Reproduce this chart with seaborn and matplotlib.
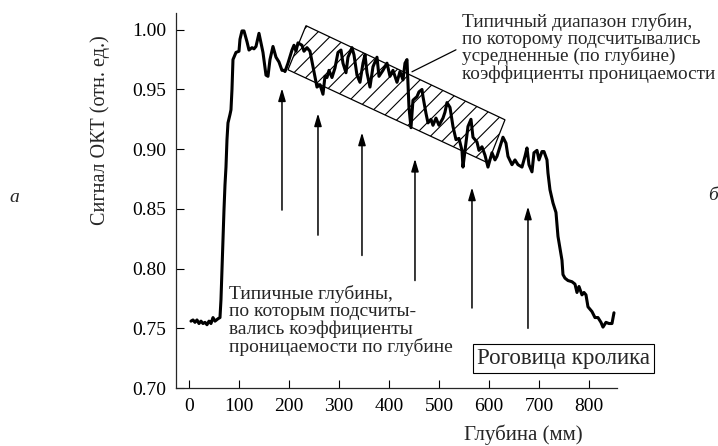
import matplotlib
matplotlib.use("Agg")
import matplotlib.pyplot as plt
import seaborn as sns
import pandas as pd
from matplotlib.patches import Polygon

# OCT signal vs depth
depth = [4, 8, 12, 16, 20, 24, 28, 32, 36, 40, 44, 48, 52, 58, 62, 64, 66, 68, 70, 72,
         74, 76, 78, 82, 84, 86, 88, 94, 100, 102, 106, 110, 116, 120, 126, 130, 134, 140,
         148, 154, 158, 162, 168, 174, 180, 186, 190, 192, 198, 206, 210, 214, 218, 226,
         230, 236, 242, 248, 256, 262, 268, 272, 276, 280, 286, 292, 298, 304, 308, 314,
         318, 326, 330, 336, 342, 348, 352, 356, 362, 368, 376, 380, 388, 396, 402, 408,
         416, 422, 428, 432, 436, 440, 444, 448, 456, 460, 466, 468, 474, 478, 484, 488,
         494, 500, 508, 512, 516, 522, 528, 534, 540, 546, 548, 554, 558, 564, 568, 576,
         580, 586, 592, 598, 606, 612, 616, 622, 628, 634, 638, 646, 652, 658, 666, 672,
         676, 680, 686, 690, 696, 700, 706, 710, 716, 718, 722, 728, 734, 738, 746, 748,
         752, 758, 766, 772, 776, 780, 786, 790, 794, 798, 806, 812, 818, 824, 828, 834,
         840, 846, 850]
signal = [0.756, 0.757, 0.755, 0.757, 0.754, 0.756, 0.754, 0.755, 0.753, 0.756, 0.754,
          0.759, 0.756, 0.758, 0.759, 0.774, 0.799, 0.824, 0.849, 0.870, 0.885, 0.908,
          0.922, 0.929, 0.933, 0.950, 0.975, 0.981, 0.982, 0.992, 0.999, 0.999, 0.990,
          0.983, 0.985, 0.984, 0.986, 0.997, 0.981, 0.962, 0.961, 0.975, 0.986, 0.977,
          0.973, 0.966, 0.966, 0.965, 0.972, 0.983, 0.987, 0.982, 0.989, 0.987, 0.982,
          0.985, 0.982, 0.969, 0.952, 0.954, 0.946, 0.961, 0.960, 0.966, 0.960, 0.968,
          0.981, 0.983, 0.972, 0.964, 0.977, 0.985, 0.979, 0.962, 0.956, 0.972, 0.979,
          0.964, 0.952, 0.969, 0.977, 0.961, 0.966, 0.972, 0.961, 0.966, 0.956, 0.965,
          0.958, 0.972, 0.975, 0.935, 0.918, 0.941, 0.944, 0.948, 0.950, 0.944, 0.930,
          0.922, 0.925, 0.920, 0.926, 0.920, 0.926, 0.931, 0.939, 0.935, 0.919, 0.908,
          0.909, 0.899, 0.885, 0.905, 0.919, 0.925, 0.910, 0.906, 0.899, 0.902, 0.895,
          0.885, 0.897, 0.891, 0.894, 0.902, 0.910, 0.905, 0.894, 0.887, 0.891, 0.887,
          0.885, 0.894, 0.901, 0.887, 0.881, 0.897, 0.899, 0.891, 0.898, 0.898, 0.891,
          0.880, 0.866, 0.855, 0.847, 0.827, 0.807, 0.795, 0.792, 0.790, 0.789, 0.787,
          0.780, 0.785, 0.778, 0.780, 0.778, 0.768, 0.764, 0.759, 0.759, 0.755, 0.751,
          0.755, 0.754, 0.754, 0.763]

# hatched band (typical depth range)
band_x = [234, 632, 598, 198]
band_y = [1.0034, 0.9246, 0.8885, 0.9665]

# arrows marking typical depths
arrow_x = [186, 258, 346, 452, 566, 678]
arrow_tip = [0.951, 0.930, 0.914, 0.892, 0.868, 0.852]
arrow_tail = [0.849, 0.828, 0.811, 0.790, 0.767, 0.750]

# leader line from band to the note
leader_x = [446, 534]
leader_y = [0.9648, 0.9832]

xticks = [0, 100, 200, 300, 400, 500, 600, 700, 800]
yticks = [0.70, 0.75, 0.80, 0.85, 0.90, 0.95, 1.00]

note_band = ("Типичный диапазон глубин,\nпо которому подсчитывались\n"
             "усредненные (по глубине)\nкоэффициенты проницаемости")
note_depths = ("Типичные глубины,\nпо которым подсчиты-\n"
               "вались коэффициенты\nпроницаемости по глубине")
sample_label = "Роговица кролика"

sns.set_theme(style="ticks")
plt.rcParams['font.family'] = ['Liberation Serif', 'DejaVu Serif']
plt.rcParams['hatch.linewidth'] = 0.8
plt.rcParams['axes.linewidth'] = 0.9

fig = plt.figure(figsize=(7.18, 4.46), dpi=100)
ax = fig.add_axes([0.2451, 0.1300, 0.6142, 0.8408])

df = pd.DataFrame({'depth': depth, 'signal': signal})
band = Polygon(list(zip(band_x, band_y)), closed=True, fill=False, hatch='//',
               edgecolor='black', linewidth=0.9, zorder=1)
ax.add_patch(band)
sns.lineplot(data=df, x='depth', y='signal', color='black', linewidth=2.2,
             ax=ax, zorder=3, sort=False)

for x, t0, t1 in zip(arrow_x, arrow_tip, arrow_tail):
    ax.annotate('', xy=(x, t0), xytext=(x, t1),
                arrowprops=dict(arrowstyle='-|>,head_length=0.75,head_width=0.22',
                                color='black', lw=1.1, shrinkA=0, shrinkB=0,
                                mutation_scale=10))

ax.plot(leader_x, leader_y, color='black', lw=0.9)

ax.text(546, 0.985, note_band, fontsize=13.9, va='center', ha='left',
        linespacing=0.98, clip_on=False)
ax.text(80, 0.7565, note_depths, fontsize=14, va='center', ha='left',
        linespacing=1.02)
ax.text(749, 0.725, sample_label, fontsize=16.5, va='center', ha='center',
        bbox=dict(boxstyle='square,pad=0.18', fc='white', ec='black', lw=0.8))

ax.set_xlim(-26, 856)
ax.set_ylim(0.70, 1.014)
ax.set_xticks(xticks)
ax.set_yticks(yticks)
ax.set_yticklabels([f"{v:.2f}" for v in yticks])
ax.tick_params(direction='in', length=5.8, width=0.8, labelsize=14, pad=7,
               colors='black')
sns.despine(ax=ax)

ax.set_xlabel("Глубина (мм)", fontsize=15)
ax.set_ylabel("Сигнал ОКТ (отн. ед.)", fontsize=14.5)
ax.xaxis.set_label_coords(0.787, -0.097)
ax.yaxis.set_label_coords(-0.150, 0.688)

fig.text(14 / 718, 1 - 197 / 446, "а", fontsize=14, style='italic',
         ha='center', va='center')
fig.text(708 / 718, 1 - 195 / 446, "б", fontsize=14, style='italic',
         ha='left', va='center')

fig.savefig("out.png", dpi=100)
